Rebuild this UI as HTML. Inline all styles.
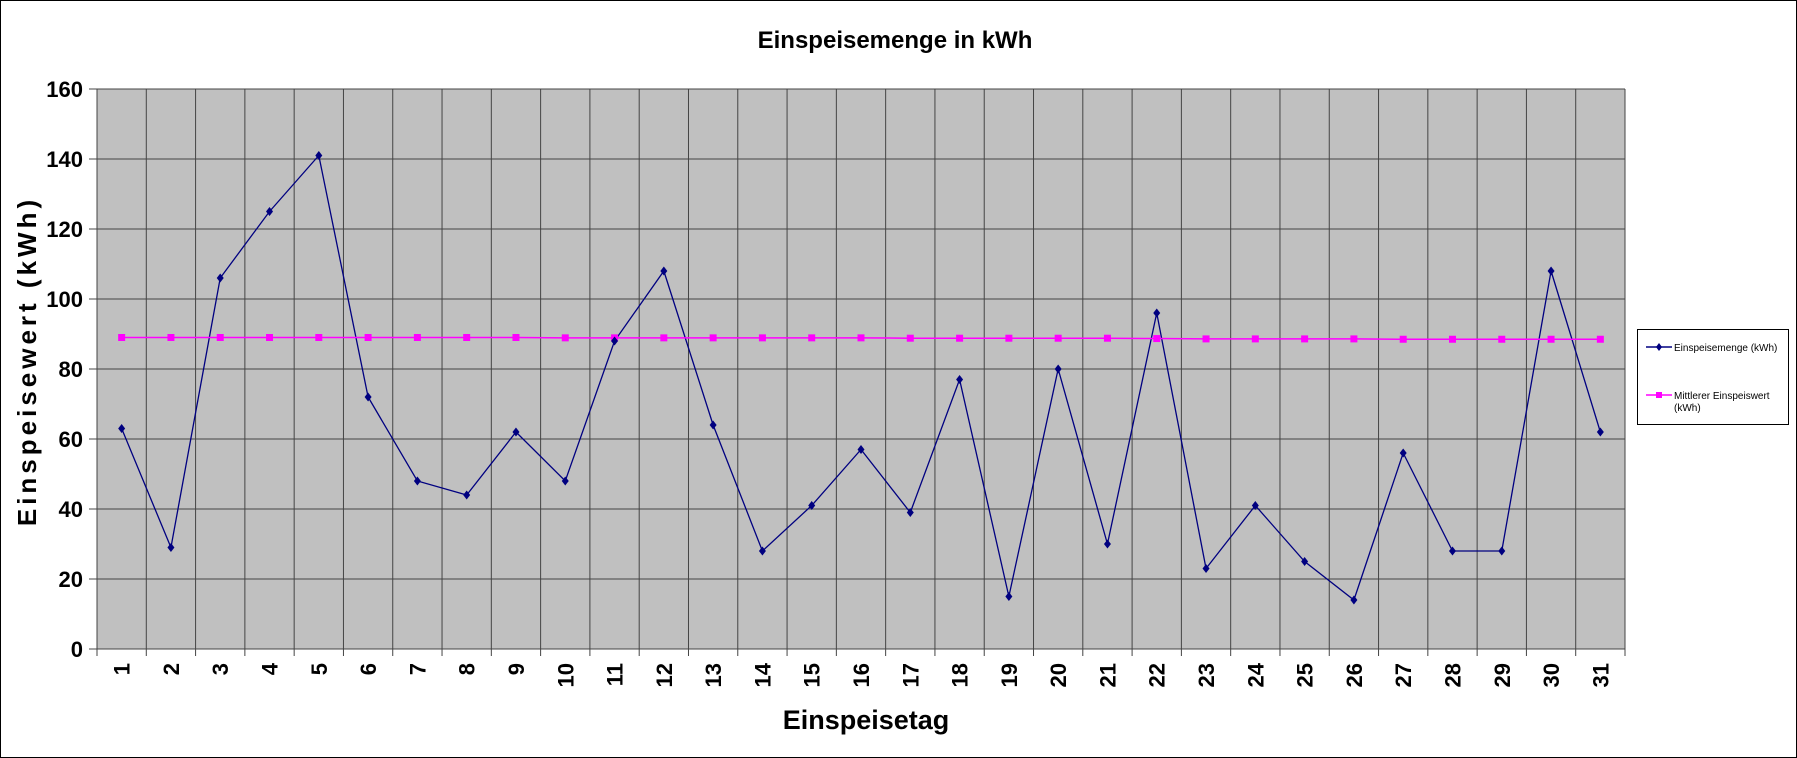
<!DOCTYPE html>
<html><head><meta charset="utf-8"><style>
html,body{margin:0;padding:0;background:#fff;}
svg{display:block;font-family:"Liberation Sans",Arial,sans-serif;}
</style></head><body>
<svg id="chart" width="1797" height="758" viewBox="0 0 1797 758">
<rect x="0.5" y="0.5" width="1796" height="757" fill="#fff" stroke="#000"/>
<text x="895" y="48" text-anchor="middle" font-size="24" font-weight="bold">Einspeisemenge in kWh</text>
<rect x="97" y="89" width="1528" height="560" fill="#c0c0c0"/>
<g id="grid"></g>
<g id="axes"></g>
<g id="series"></g>
<text transform="translate(36,361) rotate(-90)" text-anchor="middle" font-size="26" font-weight="bold" letter-spacing="4"><tspan x="0">Einspeisewert  (kWh)</tspan></text>
<text x="866" y="729" text-anchor="middle" font-size="27" font-weight="bold">Einspeisetag</text>
<g>
<rect x="1637.5" y="329.5" width="151" height="95" fill="#fff" stroke="#000"/>
<line x1="1646" y1="347" x2="1672" y2="347" stroke="#000080" stroke-width="1.5"/>
<path d="M1659 343 L1662 347 L1659 351 L1656 347Z" fill="#000080"/>
<text x="1674" y="351" font-size="10">Einspeisemenge (kWh)</text>
<line x1="1646" y1="395" x2="1672" y2="395" stroke="#ff00ff" stroke-width="1.5"/>
<rect x="1656" y="392" width="6" height="6" fill="#ff00ff"/>
<text x="1674" y="399" font-size="10">Mittlerer Einspeiswert</text>
<text x="1674" y="411" font-size="10">(kWh)</text>
</g>
</svg>
<script>
const days = [1,2,3,4,5,6,7,8,9,10,11,12,13,14,15,16,17,18,19,20,21,22,23,24,25,26,27,28,29,30,31];
const einspeisemenge = [63,29,106,125,141,72,48,44,62,48,88,108,64,28,41,57,39,77,15,80,30,96,23,41,25,14,56,28,28,108,62];
const mittlerer = [89,89,89,89,89,89,89,89,89,88.9,88.9,88.9,88.9,88.9,88.9,88.9,88.8,88.8,88.8,88.8,88.8,88.7,88.6,88.6,88.6,88.6,88.5,88.5,88.5,88.5,88.5];
const yTicks = [0,20,40,60,80,100,120,140,160];

const NS="http://www.w3.org/2000/svg";
const L=97,R=1625,T=89,B=649,YMAX=160;
const bw=(R-L)/days.length;
const xs=i=>L+bw*(i+0.5);
const ys=v=>B-(v/YMAX)*(B-T);
function mk(tag,attrs,parent){const e=document.createElementNS(NS,tag);for(const k in attrs)e.setAttribute(k,attrs[k]);document.getElementById(parent).appendChild(e);return e;}
yTicks.forEach(v=>{
  const g=mk('line',{x1:L,x2:R,y1:ys(v),y2:ys(v),stroke:'#444','stroke-width':1},'grid');
  
  
  mk('line',{x1:L-8,x2:L,y1:ys(v),y2:ys(v),stroke:'#444'},'axes');
  const t=mk('text',{x:L-14,y:ys(v)+8,'text-anchor':'end','font-size':22,'font-weight':'bold'},'axes');
  t.textContent=v;
  
  
});
for(let i=0;i<=days.length;i++){
  const x=L+bw*i;
  const g=mk('line',{x1:x,x2:x,y1:T,y2:B+7,stroke:'#444','stroke-width':1},'grid');
  
  
}
mk('line',{x1:L,x2:L,y1:T,y2:B,stroke:'#444'},'axes');
mk('line',{x1:L-8,x2:R,y1:B,y2:B,stroke:'#444'},'axes');
days.forEach((d,i)=>{
  const t=mk('text',{transform:`translate(${xs(i)+8},663) rotate(-90)`,'text-anchor':'end','font-size':22,'font-weight':'bold'},'axes');
  t.textContent=d;
  
  
});
const p1=mk('polyline',{points:einspeisemenge.map((v,i)=>xs(i)+','+ys(v)).join(' '),fill:'none',stroke:'#000080','stroke-width':1.3},'series');


const p2=mk('polyline',{points:mittlerer.map((v,i)=>xs(i)+','+ys(v)).join(' '),fill:'none',stroke:'#ff00ff','stroke-width':1.5},'series');


mittlerer.forEach((v,i)=>{
  const r=mk('rect',{x:xs(i)-3.5,y:ys(v)-3.5,width:7,height:7,fill:'#ff00ff'},'series');
  
  
});
einspeisemenge.forEach((v,i)=>{
  const x=xs(i),y=ys(v);
  const m=mk('path',{d:`M${x} ${y-4.5}L${x+3.5} ${y}L${x} ${y+4.5}L${x-3.5} ${y}Z`,fill:'#000080'},'series');
  
  
});
</script>
</body></html>
